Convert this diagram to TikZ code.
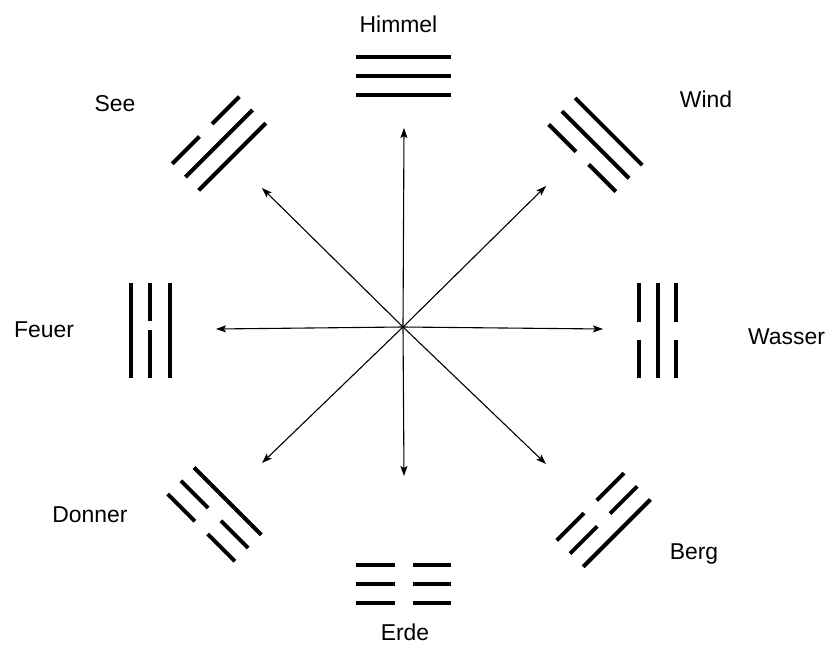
\documentclass[tikz,border=0pt]{standalone}
\usepackage{fontspec}
\setmainfont{Liberation Sans}
\usetikzlibrary{arrows.meta}

% one trigram: centre x, centre y, rotation, lines from outside to inside (1 = whole, 0 = broken)
\newcommand{\trigram}[4]{%
  \begin{scope}[shift={(#1,#2)}, rotate=#3]
    \foreach \t [count=\i] in {#4} {
      \pgfmathsetmacro{\ypos}{(\i-2)*18.7}
      \ifnum\t=1
        \draw[yao] (-47.5,\ypos) -- (47.5,\ypos);
      \else
        \draw[yao] (-47.5,\ypos) -- (-9,\ypos) (9,\ypos) -- (47.5,\ypos);
      \fi
    }
  \end{scope}}

\begin{document}
\begin{tikzpicture}[
    x=1bp, y=-1bp,
    arrow/.style={-{Stealth[length=10bp, width=7bp, inset=2bp]}, line width=1.1bp},
    yao/.style={line width=4bp},
    trilabel/.style={font=\fontsize{23}{27}\selectfont, anchor=base}
  ]
  \useasboundingbox (0,0) rectangle (829,648);

  \coordinate (centre) at (403,327);
  \coordinate (tipN) at (404,128);
  \coordinate (tipS) at (404,476);
  \coordinate (tipW) at (216,329);
  \coordinate (tipE) at (603,329);
  \coordinate (tipNW) at (262,188);
  \coordinate (tipNE) at (546,186);
  \coordinate (tipSW) at (262,463);
  \coordinate (tipSE) at (546,464);

  \foreach \d in {N,S,W,E,NW,NE,SW,SE}
    \draw[arrow] (centre) -- (tip\d);

  % the eight trigrams
  \trigram{403.5}{76.2}{0}{1,1,1}
  \trigram{403.5}{584}{180}{0,0,0}
  \trigram{657.5}{330.5}{-90}{0,1,0}
  \trigram{219}{143.5}{45}{0,1,1}
  \trigram{595.5}{144.8}{-45}{1,1,0}
  \trigram{214.5}{514.4}{135}{0,0,1}
  \trigram{603.6}{520}{-135}{1,0,0}
  % Feuer
  \draw[yao] (131,283) -- (131,378);
  \draw[yao] (150,283) -- (150,321) (150,330) -- (150,378);
  \draw[yao] (169.5,283) -- (169.5,378);

  \node[trilabel] (himmel) at (398.5,32.7) {Himmel};
  \node[trilabel] (see) at (115,112) {See};
  \node[trilabel] (wind) at (706,107.7) {Wind};
  \node[trilabel] (feuer) at (44,337) {Feuer};
  \node[trilabel] (wasser) at (786.5,344) {Wasser};
  \node[trilabel] (donner) at (90,522) {Donner};
  \node[trilabel] (berg) at (694,559) {Berg};
  \node[trilabel] (erde) at (405,640) {Erde};
\end{tikzpicture}
\end{document}
